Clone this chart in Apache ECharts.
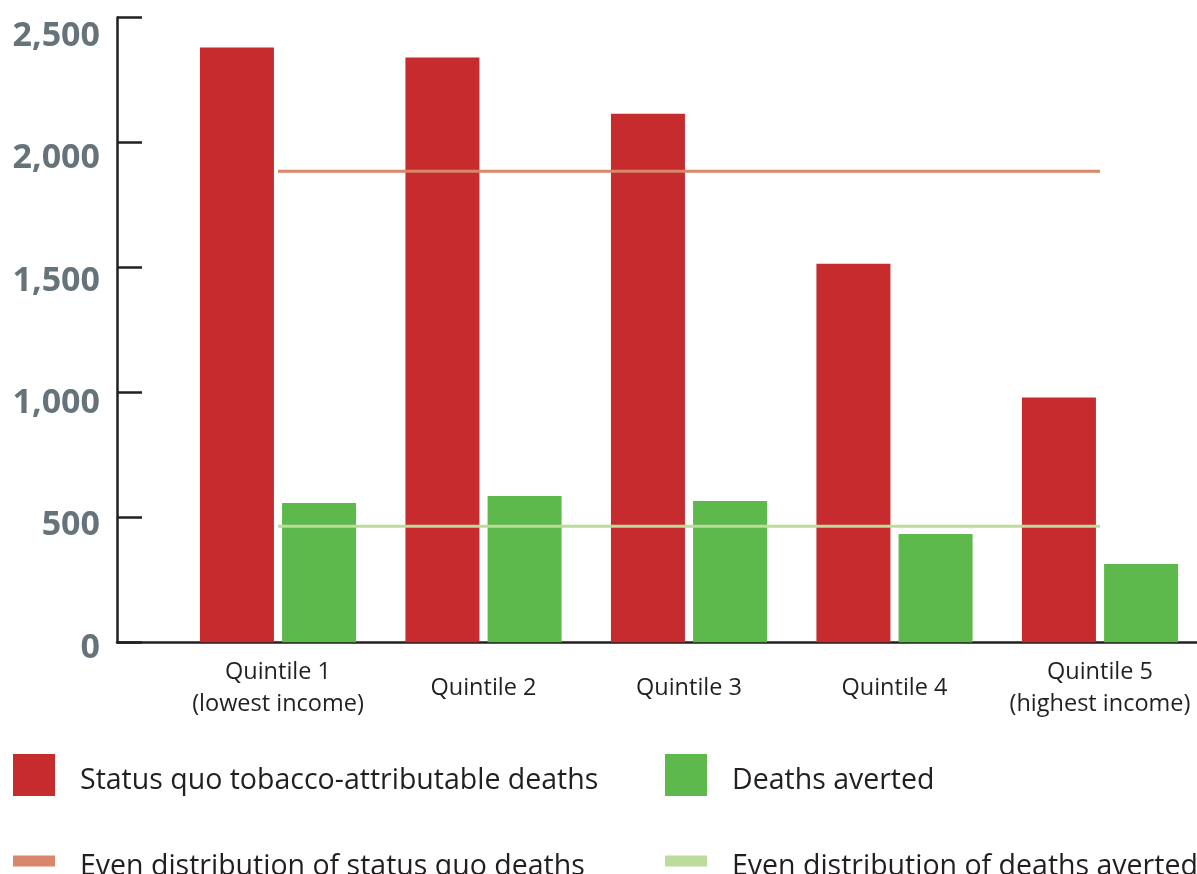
<!DOCTYPE html>
<html>
<head>
<meta charset="utf-8">
<title>Tobacco-attributable deaths by income quintile</title>
<script src="https://cdn.jsdelivr.net/npm/echarts@6/dist/echarts.min.js"></script>
<style>
  html, body { margin: 0; padding: 0; background: #ffffff; }
  #chart { width: 1197px; height: 874px; }
</style>
</head>
<body>
<div id="chart"></div>
<script>
// Income quintiles
const quintiles = ['Quintile 1\n(lowest income)', 'Quintile 2', 'Quintile 3', 'Quintile 4', 'Quintile 5\n(highest income)'];

// Deaths per quintile
const statusQuoDeaths = [2380, 2340, 2115, 1515, 980];
const deathsAverted = [557, 585, 565, 433, 313];

// Reference levels for an even distribution across quintiles
const evenStatusQuo = [1885, 1885, 1885, 1885, 1885];
const evenAverted = [464, 464, 464, 464, 464];

// Y-axis range
const yMin = 0;
const yMax = 2500;
const yStep = 500;

const seriesNames = {
  statusQuo: 'Status quo tobacco-attributable deaths',
  averted: 'Deaths averted',
  evenStatusQuo: 'Even distribution of status quo deaths',
  evenAverted: 'Even distribution of deaths averted'
};

const INK = '#231f20';
const RED = '#c62b2d';
const GREEN = '#5db94b';
const ORANGE = '#d9876b';
const PALE_GREEN = '#bcdc9c';
const FONT = 'Open Sans';

// Legend swatches sit in the upper part of their box so the label reads a little lower
const SQUARE_ICON = 'path://M0,0L42,0L42,42L0,42Z M0,54L0,54';
const BAR_ICON = 'path://M0,0L42,0L42,11L0,11Z M0,22L0,22';

const chart = echarts.init(document.getElementById('chart'), null, { renderer: 'canvas' });

// One legend entry per block so each column lines up on its own
function legendBlock(name, left, top, icon, h) {
  return {
    data: [name],
    left: left,
    top: top,
    orient: 'vertical',
    padding: 0,
    icon: icon,
    itemWidth: 42,
    itemHeight: h,
    selectedMode: false,
    textStyle: {
      fontFamily: FONT,
      fontSize: 28.5,
      color: INK,
      padding: [0, 0, 0, 20]
    }
  };
}

chart.setOption({
  animation: false,
  backgroundColor: '#ffffff',
  grid: [
    // frame: axis lines and ticks
    { left: 117, right: 0, top: 17.5, height: 624.8, containLabel: false },
    // category centres run from the first to the last quintile group
    { left: 278, width: 822, top: 17.5, height: 624.8, containLabel: false },
    // value labels of the y-axis
    { left: 117, width: 1, top: 36.5, height: 611.5, containLabel: false }
  ],
  legend: [
    legendBlock(seriesNames.statusQuo, 13, 754, SQUARE_ICON, 54),
    legendBlock(seriesNames.averted, 665, 754, SQUARE_ICON, 54),
    legendBlock(seriesNames.evenStatusQuo, 13, 852, BAR_ICON, 22),
    legendBlock(seriesNames.evenAverted, 665, 852, BAR_ICON, 22)
  ],
  xAxis: [
    {
      gridIndex: 0, type: 'value', min: 0, max: 1,
      axisLine: { show: true, onZero: false, lineStyle: { color: INK, width: 2.5 } },
      axisTick: { show: false }, axisLabel: { show: false }, splitLine: { show: false }
    },
    {
      gridIndex: 1, type: 'category', data: quintiles, boundaryGap: false,
      axisLine: { show: false }, axisTick: { show: false }, splitLine: { show: false },
      axisLabel: {
        interval: 0,
        margin: 46,
        verticalAlign: 'middle',
        fontFamily: FONT,
        fontSize: 23.5,
        lineHeight: 32,
        color: INK
      }
    },
    { gridIndex: 2, type: 'value', show: false }
  ],
  yAxis: [
    {
      gridIndex: 0, type: 'value', min: yMin, max: yMax, interval: yStep,
      axisLine: { show: true, lineStyle: { color: INK, width: 2.5 } },
      axisTick: { show: true, inside: true, length: 25, lineStyle: { color: INK, width: 2.5 } },
      axisLabel: { show: false }, splitLine: { show: false }
    },
    {
      gridIndex: 1, type: 'value', min: yMin, max: yMax, interval: yStep, show: false
    },
    {
      gridIndex: 2, type: 'value', min: yMin, max: yMax, interval: yStep,
      axisLine: { show: false }, axisTick: { show: false }, splitLine: { show: false },
      axisLabel: {
        margin: 17,
        fontFamily: FONT,
        fontWeight: 'bold',
        fontSize: 34,
        color: '#67737a',
        formatter: v => v.toLocaleString('en-US')
      }
    }
  ],
  series: [
    {
      name: seriesNames.statusQuo, type: 'bar', xAxisIndex: 1, yAxisIndex: 1,
      data: statusQuoDeaths, barWidth: 74, barGap: '11%', clip: false,
      itemStyle: { color: RED }, z: 2
    },
    {
      name: seriesNames.averted, type: 'bar', xAxisIndex: 1, yAxisIndex: 1,
      data: deathsAverted, barWidth: 74, barGap: '11%', clip: false,
      itemStyle: { color: GREEN }, z: 2
    },
    {
      name: seriesNames.evenStatusQuo, type: 'line', xAxisIndex: 1, yAxisIndex: 1,
      data: evenStatusQuo, symbol: 'none', clip: false,
      lineStyle: { color: ORANGE, width: 3 }, itemStyle: { color: ORANGE }, z: 5
    },
    {
      name: seriesNames.evenAverted, type: 'line', xAxisIndex: 1, yAxisIndex: 1,
      data: evenAverted, symbol: 'none', clip: false,
      lineStyle: { color: PALE_GREEN, width: 3 }, itemStyle: { color: PALE_GREEN }, z: 5
    }
  ]
});
</script>
</body>
</html>
